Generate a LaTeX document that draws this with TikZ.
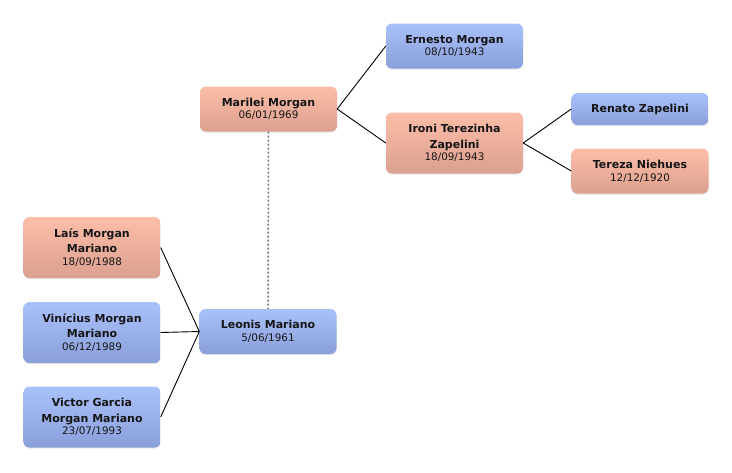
\documentclass[tikz,border=0pt]{standalone}
\usepackage{fontspec}
\setmainfont{DejaVu Sans}
\usetikzlibrary{shadows}
\definecolor{bluetop}{HTML}{A9C1FA}
\definecolor{bluebot}{HTML}{8A9FDA}
\definecolor{redtop}{HTML}{FDBEA8}
\definecolor{redbot}{HTML}{DCA090}
\definecolor{txt}{HTML}{151515}
\tikzset{
  person/.style={rectangle, rounded corners=6pt, minimum width=137pt,
    inner sep=0pt, align=center, text=txt,
    font=\fontsize{11}{15.6}\selectfont,
    drop shadow={opacity=0.18, shadow xshift=0pt, shadow yshift=-1.2pt}},
  male/.style={person, top color=bluetop, bottom color=bluebot},
  female/.style={person, top color=redtop, bottom color=redbot},
  one/.style={minimum height=32pt},
  two/.style={minimum height=45pt},
  three/.style={minimum height=61pt},
  link/.style={draw=black, line width=0.9pt},
  spouse/.style={draw=black!55, line width=1.5pt, dash pattern=on 2pt off 2pt}
}
\newcommand{\dt}[1]{\\[-3pt]{\fontsize{10.4}{12.5}\selectfont #1}}
\begin{document}
\begin{tikzpicture}[x=1pt,y=-1pt]
\useasboundingbox[fill=white] (0,0) rectangle (732,472);
\node[female,two] (marilei) at (268.5,109) {\textbf{Marilei Morgan}\dt{06/01/1969}};
\node[male,two] (leonis) at (268,331.5) {\textbf{Leonis Mariano}\dt{5/06/1961}};
\node[male,two] (ernesto) at (454.5,46) {\textbf{Ernesto Morgan}\dt{08/10/1943}};
\node[female,three] (ironi) at (454.5,143) {\textbf{Ironi Terezinha}\\\textbf{Zapelini}\dt{18/09/1943}};
\node[male,one] (renato) at (640,109) {\textbf{Renato Zapelini}};
\node[female,two] (tereza) at (640,171) {\textbf{Tereza Niehues}\dt{12/12/1920}};
\node[female,three] (lais) at (92,247.5) {\textbf{Laís Morgan}\\\textbf{Mariano}\dt{18/09/1988}};
\node[male,three] (vinicius) at (92,332.5) {\textbf{Vinícius Morgan}\\\textbf{Mariano}\dt{06/12/1989}};
\node[male,three] (victor) at (92,417) {\textbf{Victor Garcia}\\\textbf{Morgan Mariano}\dt{23/07/1993}};
\draw[link] (marilei.east) -- (ernesto.west);
\draw[link] (marilei.east) -- (ironi.west);
\draw[link] (ironi.east) -- (renato.west);
\draw[link] (ironi.east) -- (tereza.west);
\draw[link] (lais.east) -- (leonis.west);
\draw[link] (vinicius.east) -- (leonis.west);
\draw[link] (victor.east) -- (leonis.west);
\draw[spouse] (marilei.south) -- (leonis.north);
\end{tikzpicture}
\end{document}
